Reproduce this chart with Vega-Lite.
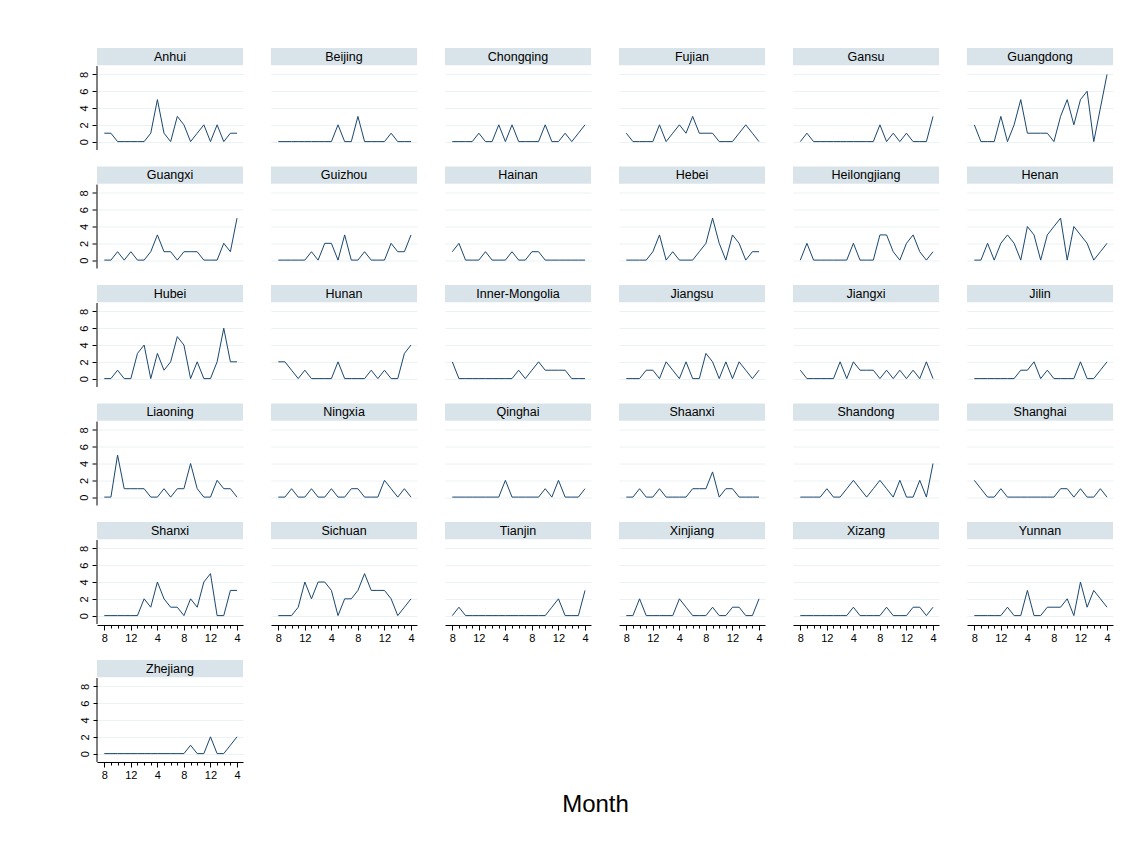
{
"$schema": "https://vega.github.io/schema/vega-lite/v6.json",
"background": "white",
"padding": {"left": 77, "top": 48, "right": 5, "bottom": 5},
"data": {"values": [
{"province":"Anhui","t":0,"n":1},{"province":"Anhui","t":1,"n":1},{"province":"Anhui","t":2,"n":0},{"province":"Anhui","t":3,"n":0},{"province":"Anhui","t":4,"n":0},{"province":"Anhui","t":5,"n":0},{"province":"Anhui","t":6,"n":0},{"province":"Anhui","t":7,"n":1},{"province":"Anhui","t":8,"n":5},{"province":"Anhui","t":9,"n":1},{"province":"Anhui","t":10,"n":0},{"province":"Anhui","t":11,"n":3},{"province":"Anhui","t":12,"n":2},{"province":"Anhui","t":13,"n":0},{"province":"Anhui","t":14,"n":1},{"province":"Anhui","t":15,"n":2},{"province":"Anhui","t":16,"n":0},{"province":"Anhui","t":17,"n":2},{"province":"Anhui","t":18,"n":0},{"province":"Anhui","t":19,"n":1},{"province":"Anhui","t":20,"n":1},
{"province":"Beijing","t":0,"n":0},{"province":"Beijing","t":1,"n":0},{"province":"Beijing","t":2,"n":0},{"province":"Beijing","t":3,"n":0},{"province":"Beijing","t":4,"n":0},{"province":"Beijing","t":5,"n":0},{"province":"Beijing","t":6,"n":0},{"province":"Beijing","t":7,"n":0},{"province":"Beijing","t":8,"n":0},{"province":"Beijing","t":9,"n":2},{"province":"Beijing","t":10,"n":0},{"province":"Beijing","t":11,"n":0},{"province":"Beijing","t":12,"n":3},{"province":"Beijing","t":13,"n":0},{"province":"Beijing","t":14,"n":0},{"province":"Beijing","t":15,"n":0},{"province":"Beijing","t":16,"n":0},{"province":"Beijing","t":17,"n":1},{"province":"Beijing","t":18,"n":0},{"province":"Beijing","t":19,"n":0},{"province":"Beijing","t":20,"n":0},
{"province":"Chongqing","t":0,"n":0},{"province":"Chongqing","t":1,"n":0},{"province":"Chongqing","t":2,"n":0},{"province":"Chongqing","t":3,"n":0},{"province":"Chongqing","t":4,"n":1},{"province":"Chongqing","t":5,"n":0},{"province":"Chongqing","t":6,"n":0},{"province":"Chongqing","t":7,"n":2},{"province":"Chongqing","t":8,"n":0},{"province":"Chongqing","t":9,"n":2},{"province":"Chongqing","t":10,"n":0},{"province":"Chongqing","t":11,"n":0},{"province":"Chongqing","t":12,"n":0},{"province":"Chongqing","t":13,"n":0},{"province":"Chongqing","t":14,"n":2},{"province":"Chongqing","t":15,"n":0},{"province":"Chongqing","t":16,"n":0},{"province":"Chongqing","t":17,"n":1},{"province":"Chongqing","t":18,"n":0},{"province":"Chongqing","t":19,"n":1},{"province":"Chongqing","t":20,"n":2},
{"province":"Fujian","t":0,"n":1},{"province":"Fujian","t":1,"n":0},{"province":"Fujian","t":2,"n":0},{"province":"Fujian","t":3,"n":0},{"province":"Fujian","t":4,"n":0},{"province":"Fujian","t":5,"n":2},{"province":"Fujian","t":6,"n":0},{"province":"Fujian","t":7,"n":1},{"province":"Fujian","t":8,"n":2},{"province":"Fujian","t":9,"n":1},{"province":"Fujian","t":10,"n":3},{"province":"Fujian","t":11,"n":1},{"province":"Fujian","t":12,"n":1},{"province":"Fujian","t":13,"n":1},{"province":"Fujian","t":14,"n":0},{"province":"Fujian","t":15,"n":0},{"province":"Fujian","t":16,"n":0},{"province":"Fujian","t":17,"n":1},{"province":"Fujian","t":18,"n":2},{"province":"Fujian","t":19,"n":1},{"province":"Fujian","t":20,"n":0},
{"province":"Gansu","t":0,"n":0},{"province":"Gansu","t":1,"n":1},{"province":"Gansu","t":2,"n":0},{"province":"Gansu","t":3,"n":0},{"province":"Gansu","t":4,"n":0},{"province":"Gansu","t":5,"n":0},{"province":"Gansu","t":6,"n":0},{"province":"Gansu","t":7,"n":0},{"province":"Gansu","t":8,"n":0},{"province":"Gansu","t":9,"n":0},{"province":"Gansu","t":10,"n":0},{"province":"Gansu","t":11,"n":0},{"province":"Gansu","t":12,"n":2},{"province":"Gansu","t":13,"n":0},{"province":"Gansu","t":14,"n":1},{"province":"Gansu","t":15,"n":0},{"province":"Gansu","t":16,"n":1},{"province":"Gansu","t":17,"n":0},{"province":"Gansu","t":18,"n":0},{"province":"Gansu","t":19,"n":0},{"province":"Gansu","t":20,"n":3},
{"province":"Guangdong","t":0,"n":2},{"province":"Guangdong","t":1,"n":0},{"province":"Guangdong","t":2,"n":0},{"province":"Guangdong","t":3,"n":0},{"province":"Guangdong","t":4,"n":3},{"province":"Guangdong","t":5,"n":0},{"province":"Guangdong","t":6,"n":2},{"province":"Guangdong","t":7,"n":5},{"province":"Guangdong","t":8,"n":1},{"province":"Guangdong","t":9,"n":1},{"province":"Guangdong","t":10,"n":1},{"province":"Guangdong","t":11,"n":1},{"province":"Guangdong","t":12,"n":0},{"province":"Guangdong","t":13,"n":3},{"province":"Guangdong","t":14,"n":5},{"province":"Guangdong","t":15,"n":2},{"province":"Guangdong","t":16,"n":5},{"province":"Guangdong","t":17,"n":6},{"province":"Guangdong","t":18,"n":0},{"province":"Guangdong","t":19,"n":4},{"province":"Guangdong","t":20,"n":8},
{"province":"Guangxi","t":0,"n":0},{"province":"Guangxi","t":1,"n":0},{"province":"Guangxi","t":2,"n":1},{"province":"Guangxi","t":3,"n":0},{"province":"Guangxi","t":4,"n":1},{"province":"Guangxi","t":5,"n":0},{"province":"Guangxi","t":6,"n":0},{"province":"Guangxi","t":7,"n":1},{"province":"Guangxi","t":8,"n":3},{"province":"Guangxi","t":9,"n":1},{"province":"Guangxi","t":10,"n":1},{"province":"Guangxi","t":11,"n":0},{"province":"Guangxi","t":12,"n":1},{"province":"Guangxi","t":13,"n":1},{"province":"Guangxi","t":14,"n":1},{"province":"Guangxi","t":15,"n":0},{"province":"Guangxi","t":16,"n":0},{"province":"Guangxi","t":17,"n":0},{"province":"Guangxi","t":18,"n":2},{"province":"Guangxi","t":19,"n":1},{"province":"Guangxi","t":20,"n":5},
{"province":"Guizhou","t":0,"n":0},{"province":"Guizhou","t":1,"n":0},{"province":"Guizhou","t":2,"n":0},{"province":"Guizhou","t":3,"n":0},{"province":"Guizhou","t":4,"n":0},{"province":"Guizhou","t":5,"n":1},{"province":"Guizhou","t":6,"n":0},{"province":"Guizhou","t":7,"n":2},{"province":"Guizhou","t":8,"n":2},{"province":"Guizhou","t":9,"n":0},{"province":"Guizhou","t":10,"n":3},{"province":"Guizhou","t":11,"n":0},{"province":"Guizhou","t":12,"n":0},{"province":"Guizhou","t":13,"n":1},{"province":"Guizhou","t":14,"n":0},{"province":"Guizhou","t":15,"n":0},{"province":"Guizhou","t":16,"n":0},{"province":"Guizhou","t":17,"n":2},{"province":"Guizhou","t":18,"n":1},{"province":"Guizhou","t":19,"n":1},{"province":"Guizhou","t":20,"n":3},
{"province":"Hainan","t":0,"n":1},{"province":"Hainan","t":1,"n":2},{"province":"Hainan","t":2,"n":0},{"province":"Hainan","t":3,"n":0},{"province":"Hainan","t":4,"n":0},{"province":"Hainan","t":5,"n":1},{"province":"Hainan","t":6,"n":0},{"province":"Hainan","t":7,"n":0},{"province":"Hainan","t":8,"n":0},{"province":"Hainan","t":9,"n":1},{"province":"Hainan","t":10,"n":0},{"province":"Hainan","t":11,"n":0},{"province":"Hainan","t":12,"n":1},{"province":"Hainan","t":13,"n":1},{"province":"Hainan","t":14,"n":0},{"province":"Hainan","t":15,"n":0},{"province":"Hainan","t":16,"n":0},{"province":"Hainan","t":17,"n":0},{"province":"Hainan","t":18,"n":0},{"province":"Hainan","t":19,"n":0},{"province":"Hainan","t":20,"n":0},
{"province":"Hebei","t":0,"n":0},{"province":"Hebei","t":1,"n":0},{"province":"Hebei","t":2,"n":0},{"province":"Hebei","t":3,"n":0},{"province":"Hebei","t":4,"n":1},{"province":"Hebei","t":5,"n":3},{"province":"Hebei","t":6,"n":0},{"province":"Hebei","t":7,"n":1},{"province":"Hebei","t":8,"n":0},{"province":"Hebei","t":9,"n":0},{"province":"Hebei","t":10,"n":0},{"province":"Hebei","t":11,"n":1},{"province":"Hebei","t":12,"n":2},{"province":"Hebei","t":13,"n":5},{"province":"Hebei","t":14,"n":2},{"province":"Hebei","t":15,"n":0},{"province":"Hebei","t":16,"n":3},{"province":"Hebei","t":17,"n":2},{"province":"Hebei","t":18,"n":0},{"province":"Hebei","t":19,"n":1},{"province":"Hebei","t":20,"n":1},
{"province":"Heilongjiang","t":0,"n":0},{"province":"Heilongjiang","t":1,"n":2},{"province":"Heilongjiang","t":2,"n":0},{"province":"Heilongjiang","t":3,"n":0},{"province":"Heilongjiang","t":4,"n":0},{"province":"Heilongjiang","t":5,"n":0},{"province":"Heilongjiang","t":6,"n":0},{"province":"Heilongjiang","t":7,"n":0},{"province":"Heilongjiang","t":8,"n":2},{"province":"Heilongjiang","t":9,"n":0},{"province":"Heilongjiang","t":10,"n":0},{"province":"Heilongjiang","t":11,"n":0},{"province":"Heilongjiang","t":12,"n":3},{"province":"Heilongjiang","t":13,"n":3},{"province":"Heilongjiang","t":14,"n":1},{"province":"Heilongjiang","t":15,"n":0},{"province":"Heilongjiang","t":16,"n":2},{"province":"Heilongjiang","t":17,"n":3},{"province":"Heilongjiang","t":18,"n":1},{"province":"Heilongjiang","t":19,"n":0},{"province":"Heilongjiang","t":20,"n":1},
{"province":"Henan","t":0,"n":0},{"province":"Henan","t":1,"n":0},{"province":"Henan","t":2,"n":2},{"province":"Henan","t":3,"n":0},{"province":"Henan","t":4,"n":2},{"province":"Henan","t":5,"n":3},{"province":"Henan","t":6,"n":2},{"province":"Henan","t":7,"n":0},{"province":"Henan","t":8,"n":4},{"province":"Henan","t":9,"n":3},{"province":"Henan","t":10,"n":0},{"province":"Henan","t":11,"n":3},{"province":"Henan","t":12,"n":4},{"province":"Henan","t":13,"n":5},{"province":"Henan","t":14,"n":0},{"province":"Henan","t":15,"n":4},{"province":"Henan","t":16,"n":3},{"province":"Henan","t":17,"n":2},{"province":"Henan","t":18,"n":0},{"province":"Henan","t":19,"n":1},{"province":"Henan","t":20,"n":2},
{"province":"Hubei","t":0,"n":0},{"province":"Hubei","t":1,"n":0},{"province":"Hubei","t":2,"n":1},{"province":"Hubei","t":3,"n":0},{"province":"Hubei","t":4,"n":0},{"province":"Hubei","t":5,"n":3},{"province":"Hubei","t":6,"n":4},{"province":"Hubei","t":7,"n":0},{"province":"Hubei","t":8,"n":3},{"province":"Hubei","t":9,"n":1},{"province":"Hubei","t":10,"n":2},{"province":"Hubei","t":11,"n":5},{"province":"Hubei","t":12,"n":4},{"province":"Hubei","t":13,"n":0},{"province":"Hubei","t":14,"n":2},{"province":"Hubei","t":15,"n":0},{"province":"Hubei","t":16,"n":0},{"province":"Hubei","t":17,"n":2},{"province":"Hubei","t":18,"n":6},{"province":"Hubei","t":19,"n":2},{"province":"Hubei","t":20,"n":2},
{"province":"Hunan","t":0,"n":2},{"province":"Hunan","t":1,"n":2},{"province":"Hunan","t":2,"n":1},{"province":"Hunan","t":3,"n":0},{"province":"Hunan","t":4,"n":1},{"province":"Hunan","t":5,"n":0},{"province":"Hunan","t":6,"n":0},{"province":"Hunan","t":7,"n":0},{"province":"Hunan","t":8,"n":0},{"province":"Hunan","t":9,"n":2},{"province":"Hunan","t":10,"n":0},{"province":"Hunan","t":11,"n":0},{"province":"Hunan","t":12,"n":0},{"province":"Hunan","t":13,"n":0},{"province":"Hunan","t":14,"n":1},{"province":"Hunan","t":15,"n":0},{"province":"Hunan","t":16,"n":1},{"province":"Hunan","t":17,"n":0},{"province":"Hunan","t":18,"n":0},{"province":"Hunan","t":19,"n":3},{"province":"Hunan","t":20,"n":4},
{"province":"Inner-Mongolia","t":0,"n":2},{"province":"Inner-Mongolia","t":1,"n":0},{"province":"Inner-Mongolia","t":2,"n":0},{"province":"Inner-Mongolia","t":3,"n":0},{"province":"Inner-Mongolia","t":4,"n":0},{"province":"Inner-Mongolia","t":5,"n":0},{"province":"Inner-Mongolia","t":6,"n":0},{"province":"Inner-Mongolia","t":7,"n":0},{"province":"Inner-Mongolia","t":8,"n":0},{"province":"Inner-Mongolia","t":9,"n":0},{"province":"Inner-Mongolia","t":10,"n":1},{"province":"Inner-Mongolia","t":11,"n":0},{"province":"Inner-Mongolia","t":12,"n":1},{"province":"Inner-Mongolia","t":13,"n":2},{"province":"Inner-Mongolia","t":14,"n":1},{"province":"Inner-Mongolia","t":15,"n":1},{"province":"Inner-Mongolia","t":16,"n":1},{"province":"Inner-Mongolia","t":17,"n":1},{"province":"Inner-Mongolia","t":18,"n":0},{"province":"Inner-Mongolia","t":19,"n":0},{"province":"Inner-Mongolia","t":20,"n":0},
{"province":"Jiangsu","t":0,"n":0},{"province":"Jiangsu","t":1,"n":0},{"province":"Jiangsu","t":2,"n":0},{"province":"Jiangsu","t":3,"n":1},{"province":"Jiangsu","t":4,"n":1},{"province":"Jiangsu","t":5,"n":0},{"province":"Jiangsu","t":6,"n":2},{"province":"Jiangsu","t":7,"n":1},{"province":"Jiangsu","t":8,"n":0},{"province":"Jiangsu","t":9,"n":2},{"province":"Jiangsu","t":10,"n":0},{"province":"Jiangsu","t":11,"n":0},{"province":"Jiangsu","t":12,"n":3},{"province":"Jiangsu","t":13,"n":2},{"province":"Jiangsu","t":14,"n":0},{"province":"Jiangsu","t":15,"n":2},{"province":"Jiangsu","t":16,"n":0},{"province":"Jiangsu","t":17,"n":2},{"province":"Jiangsu","t":18,"n":1},{"province":"Jiangsu","t":19,"n":0},{"province":"Jiangsu","t":20,"n":1},
{"province":"Jiangxi","t":0,"n":1},{"province":"Jiangxi","t":1,"n":0},{"province":"Jiangxi","t":2,"n":0},{"province":"Jiangxi","t":3,"n":0},{"province":"Jiangxi","t":4,"n":0},{"province":"Jiangxi","t":5,"n":0},{"province":"Jiangxi","t":6,"n":2},{"province":"Jiangxi","t":7,"n":0},{"province":"Jiangxi","t":8,"n":2},{"province":"Jiangxi","t":9,"n":1},{"province":"Jiangxi","t":10,"n":1},{"province":"Jiangxi","t":11,"n":1},{"province":"Jiangxi","t":12,"n":0},{"province":"Jiangxi","t":13,"n":1},{"province":"Jiangxi","t":14,"n":0},{"province":"Jiangxi","t":15,"n":1},{"province":"Jiangxi","t":16,"n":0},{"province":"Jiangxi","t":17,"n":1},{"province":"Jiangxi","t":18,"n":0},{"province":"Jiangxi","t":19,"n":2},{"province":"Jiangxi","t":20,"n":0},
{"province":"Jilin","t":0,"n":0},{"province":"Jilin","t":1,"n":0},{"province":"Jilin","t":2,"n":0},{"province":"Jilin","t":3,"n":0},{"province":"Jilin","t":4,"n":0},{"province":"Jilin","t":5,"n":0},{"province":"Jilin","t":6,"n":0},{"province":"Jilin","t":7,"n":1},{"province":"Jilin","t":8,"n":1},{"province":"Jilin","t":9,"n":2},{"province":"Jilin","t":10,"n":0},{"province":"Jilin","t":11,"n":1},{"province":"Jilin","t":12,"n":0},{"province":"Jilin","t":13,"n":0},{"province":"Jilin","t":14,"n":0},{"province":"Jilin","t":15,"n":0},{"province":"Jilin","t":16,"n":2},{"province":"Jilin","t":17,"n":0},{"province":"Jilin","t":18,"n":0},{"province":"Jilin","t":19,"n":1},{"province":"Jilin","t":20,"n":2},
{"province":"Liaoning","t":0,"n":0},{"province":"Liaoning","t":1,"n":0},{"province":"Liaoning","t":2,"n":5},{"province":"Liaoning","t":3,"n":1},{"province":"Liaoning","t":4,"n":1},{"province":"Liaoning","t":5,"n":1},{"province":"Liaoning","t":6,"n":1},{"province":"Liaoning","t":7,"n":0},{"province":"Liaoning","t":8,"n":0},{"province":"Liaoning","t":9,"n":1},{"province":"Liaoning","t":10,"n":0},{"province":"Liaoning","t":11,"n":1},{"province":"Liaoning","t":12,"n":1},{"province":"Liaoning","t":13,"n":4},{"province":"Liaoning","t":14,"n":1},{"province":"Liaoning","t":15,"n":0},{"province":"Liaoning","t":16,"n":0},{"province":"Liaoning","t":17,"n":2},{"province":"Liaoning","t":18,"n":1},{"province":"Liaoning","t":19,"n":1},{"province":"Liaoning","t":20,"n":0},
{"province":"Ningxia","t":0,"n":0},{"province":"Ningxia","t":1,"n":0},{"province":"Ningxia","t":2,"n":1},{"province":"Ningxia","t":3,"n":0},{"province":"Ningxia","t":4,"n":0},{"province":"Ningxia","t":5,"n":1},{"province":"Ningxia","t":6,"n":0},{"province":"Ningxia","t":7,"n":0},{"province":"Ningxia","t":8,"n":1},{"province":"Ningxia","t":9,"n":0},{"province":"Ningxia","t":10,"n":0},{"province":"Ningxia","t":11,"n":1},{"province":"Ningxia","t":12,"n":1},{"province":"Ningxia","t":13,"n":0},{"province":"Ningxia","t":14,"n":0},{"province":"Ningxia","t":15,"n":0},{"province":"Ningxia","t":16,"n":2},{"province":"Ningxia","t":17,"n":1},{"province":"Ningxia","t":18,"n":0},{"province":"Ningxia","t":19,"n":1},{"province":"Ningxia","t":20,"n":0},
{"province":"Qinghai","t":0,"n":0},{"province":"Qinghai","t":1,"n":0},{"province":"Qinghai","t":2,"n":0},{"province":"Qinghai","t":3,"n":0},{"province":"Qinghai","t":4,"n":0},{"province":"Qinghai","t":5,"n":0},{"province":"Qinghai","t":6,"n":0},{"province":"Qinghai","t":7,"n":0},{"province":"Qinghai","t":8,"n":2},{"province":"Qinghai","t":9,"n":0},{"province":"Qinghai","t":10,"n":0},{"province":"Qinghai","t":11,"n":0},{"province":"Qinghai","t":12,"n":0},{"province":"Qinghai","t":13,"n":0},{"province":"Qinghai","t":14,"n":1},{"province":"Qinghai","t":15,"n":0},{"province":"Qinghai","t":16,"n":2},{"province":"Qinghai","t":17,"n":0},{"province":"Qinghai","t":18,"n":0},{"province":"Qinghai","t":19,"n":0},{"province":"Qinghai","t":20,"n":1},
{"province":"Shaanxi","t":0,"n":0},{"province":"Shaanxi","t":1,"n":0},{"province":"Shaanxi","t":2,"n":1},{"province":"Shaanxi","t":3,"n":0},{"province":"Shaanxi","t":4,"n":0},{"province":"Shaanxi","t":5,"n":1},{"province":"Shaanxi","t":6,"n":0},{"province":"Shaanxi","t":7,"n":0},{"province":"Shaanxi","t":8,"n":0},{"province":"Shaanxi","t":9,"n":0},{"province":"Shaanxi","t":10,"n":1},{"province":"Shaanxi","t":11,"n":1},{"province":"Shaanxi","t":12,"n":1},{"province":"Shaanxi","t":13,"n":3},{"province":"Shaanxi","t":14,"n":0},{"province":"Shaanxi","t":15,"n":1},{"province":"Shaanxi","t":16,"n":1},{"province":"Shaanxi","t":17,"n":0},{"province":"Shaanxi","t":18,"n":0},{"province":"Shaanxi","t":19,"n":0},{"province":"Shaanxi","t":20,"n":0},
{"province":"Shandong","t":0,"n":0},{"province":"Shandong","t":1,"n":0},{"province":"Shandong","t":2,"n":0},{"province":"Shandong","t":3,"n":0},{"province":"Shandong","t":4,"n":1},{"province":"Shandong","t":5,"n":0},{"province":"Shandong","t":6,"n":0},{"province":"Shandong","t":7,"n":1},{"province":"Shandong","t":8,"n":2},{"province":"Shandong","t":9,"n":1},{"province":"Shandong","t":10,"n":0},{"province":"Shandong","t":11,"n":1},{"province":"Shandong","t":12,"n":2},{"province":"Shandong","t":13,"n":1},{"province":"Shandong","t":14,"n":0},{"province":"Shandong","t":15,"n":2},{"province":"Shandong","t":16,"n":0},{"province":"Shandong","t":17,"n":0},{"province":"Shandong","t":18,"n":2},{"province":"Shandong","t":19,"n":0},{"province":"Shandong","t":20,"n":4},
{"province":"Shanghai","t":0,"n":2},{"province":"Shanghai","t":1,"n":1},{"province":"Shanghai","t":2,"n":0},{"province":"Shanghai","t":3,"n":0},{"province":"Shanghai","t":4,"n":1},{"province":"Shanghai","t":5,"n":0},{"province":"Shanghai","t":6,"n":0},{"province":"Shanghai","t":7,"n":0},{"province":"Shanghai","t":8,"n":0},{"province":"Shanghai","t":9,"n":0},{"province":"Shanghai","t":10,"n":0},{"province":"Shanghai","t":11,"n":0},{"province":"Shanghai","t":12,"n":0},{"province":"Shanghai","t":13,"n":1},{"province":"Shanghai","t":14,"n":1},{"province":"Shanghai","t":15,"n":0},{"province":"Shanghai","t":16,"n":1},{"province":"Shanghai","t":17,"n":0},{"province":"Shanghai","t":18,"n":0},{"province":"Shanghai","t":19,"n":1},{"province":"Shanghai","t":20,"n":0},
{"province":"Shanxi","t":0,"n":0},{"province":"Shanxi","t":1,"n":0},{"province":"Shanxi","t":2,"n":0},{"province":"Shanxi","t":3,"n":0},{"province":"Shanxi","t":4,"n":0},{"province":"Shanxi","t":5,"n":0},{"province":"Shanxi","t":6,"n":2},{"province":"Shanxi","t":7,"n":1},{"province":"Shanxi","t":8,"n":4},{"province":"Shanxi","t":9,"n":2},{"province":"Shanxi","t":10,"n":1},{"province":"Shanxi","t":11,"n":1},{"province":"Shanxi","t":12,"n":0},{"province":"Shanxi","t":13,"n":2},{"province":"Shanxi","t":14,"n":1},{"province":"Shanxi","t":15,"n":4},{"province":"Shanxi","t":16,"n":5},{"province":"Shanxi","t":17,"n":0},{"province":"Shanxi","t":18,"n":0},{"province":"Shanxi","t":19,"n":3},{"province":"Shanxi","t":20,"n":3},
{"province":"Sichuan","t":0,"n":0},{"province":"Sichuan","t":1,"n":0},{"province":"Sichuan","t":2,"n":0},{"province":"Sichuan","t":3,"n":1},{"province":"Sichuan","t":4,"n":4},{"province":"Sichuan","t":5,"n":2},{"province":"Sichuan","t":6,"n":4},{"province":"Sichuan","t":7,"n":4},{"province":"Sichuan","t":8,"n":3},{"province":"Sichuan","t":9,"n":0},{"province":"Sichuan","t":10,"n":2},{"province":"Sichuan","t":11,"n":2},{"province":"Sichuan","t":12,"n":3},{"province":"Sichuan","t":13,"n":5},{"province":"Sichuan","t":14,"n":3},{"province":"Sichuan","t":15,"n":3},{"province":"Sichuan","t":16,"n":3},{"province":"Sichuan","t":17,"n":2},{"province":"Sichuan","t":18,"n":0},{"province":"Sichuan","t":19,"n":1},{"province":"Sichuan","t":20,"n":2},
{"province":"Tianjin","t":0,"n":0},{"province":"Tianjin","t":1,"n":1},{"province":"Tianjin","t":2,"n":0},{"province":"Tianjin","t":3,"n":0},{"province":"Tianjin","t":4,"n":0},{"province":"Tianjin","t":5,"n":0},{"province":"Tianjin","t":6,"n":0},{"province":"Tianjin","t":7,"n":0},{"province":"Tianjin","t":8,"n":0},{"province":"Tianjin","t":9,"n":0},{"province":"Tianjin","t":10,"n":0},{"province":"Tianjin","t":11,"n":0},{"province":"Tianjin","t":12,"n":0},{"province":"Tianjin","t":13,"n":0},{"province":"Tianjin","t":14,"n":0},{"province":"Tianjin","t":15,"n":1},{"province":"Tianjin","t":16,"n":2},{"province":"Tianjin","t":17,"n":0},{"province":"Tianjin","t":18,"n":0},{"province":"Tianjin","t":19,"n":0},{"province":"Tianjin","t":20,"n":3},
{"province":"Xinjiang","t":0,"n":0},{"province":"Xinjiang","t":1,"n":0},{"province":"Xinjiang","t":2,"n":2},{"province":"Xinjiang","t":3,"n":0},{"province":"Xinjiang","t":4,"n":0},{"province":"Xinjiang","t":5,"n":0},{"province":"Xinjiang","t":6,"n":0},{"province":"Xinjiang","t":7,"n":0},{"province":"Xinjiang","t":8,"n":2},{"province":"Xinjiang","t":9,"n":1},{"province":"Xinjiang","t":10,"n":0},{"province":"Xinjiang","t":11,"n":0},{"province":"Xinjiang","t":12,"n":0},{"province":"Xinjiang","t":13,"n":1},{"province":"Xinjiang","t":14,"n":0},{"province":"Xinjiang","t":15,"n":0},{"province":"Xinjiang","t":16,"n":1},{"province":"Xinjiang","t":17,"n":1},{"province":"Xinjiang","t":18,"n":0},{"province":"Xinjiang","t":19,"n":0},{"province":"Xinjiang","t":20,"n":2},
{"province":"Xizang","t":0,"n":0},{"province":"Xizang","t":1,"n":0},{"province":"Xizang","t":2,"n":0},{"province":"Xizang","t":3,"n":0},{"province":"Xizang","t":4,"n":0},{"province":"Xizang","t":5,"n":0},{"province":"Xizang","t":6,"n":0},{"province":"Xizang","t":7,"n":0},{"province":"Xizang","t":8,"n":1},{"province":"Xizang","t":9,"n":0},{"province":"Xizang","t":10,"n":0},{"province":"Xizang","t":11,"n":0},{"province":"Xizang","t":12,"n":0},{"province":"Xizang","t":13,"n":1},{"province":"Xizang","t":14,"n":0},{"province":"Xizang","t":15,"n":0},{"province":"Xizang","t":16,"n":0},{"province":"Xizang","t":17,"n":1},{"province":"Xizang","t":18,"n":1},{"province":"Xizang","t":19,"n":0},{"province":"Xizang","t":20,"n":1},
{"province":"Yunnan","t":0,"n":0},{"province":"Yunnan","t":1,"n":0},{"province":"Yunnan","t":2,"n":0},{"province":"Yunnan","t":3,"n":0},{"province":"Yunnan","t":4,"n":0},{"province":"Yunnan","t":5,"n":1},{"province":"Yunnan","t":6,"n":0},{"province":"Yunnan","t":7,"n":0},{"province":"Yunnan","t":8,"n":3},{"province":"Yunnan","t":9,"n":0},{"province":"Yunnan","t":10,"n":0},{"province":"Yunnan","t":11,"n":1},{"province":"Yunnan","t":12,"n":1},{"province":"Yunnan","t":13,"n":1},{"province":"Yunnan","t":14,"n":2},{"province":"Yunnan","t":15,"n":0},{"province":"Yunnan","t":16,"n":4},{"province":"Yunnan","t":17,"n":1},{"province":"Yunnan","t":18,"n":3},{"province":"Yunnan","t":19,"n":2},{"province":"Yunnan","t":20,"n":1},
{"province":"Zhejiang","t":0,"n":0},{"province":"Zhejiang","t":1,"n":0},{"province":"Zhejiang","t":2,"n":0},{"province":"Zhejiang","t":3,"n":0},{"province":"Zhejiang","t":4,"n":0},{"province":"Zhejiang","t":5,"n":0},{"province":"Zhejiang","t":6,"n":0},{"province":"Zhejiang","t":7,"n":0},{"province":"Zhejiang","t":8,"n":0},{"province":"Zhejiang","t":9,"n":0},{"province":"Zhejiang","t":10,"n":0},{"province":"Zhejiang","t":11,"n":0},{"province":"Zhejiang","t":12,"n":0},{"province":"Zhejiang","t":13,"n":1},{"province":"Zhejiang","t":14,"n":0},{"province":"Zhejiang","t":15,"n":0},{"province":"Zhejiang","t":16,"n":2},{"province":"Zhejiang","t":17,"n":0},{"province":"Zhejiang","t":18,"n":0},{"province":"Zhejiang","t":19,"n":1},{"province":"Zhejiang","t":20,"n":2}
]},
"spacing": 17,
"vconcat": [
{
"transform": [{"filter": "datum.province !== 'Zhejiang'"}],
"facet": {"field": "province", "type": "nominal", "title": null, "header": {"labels": false, "title": null, "labelFontSize": 0, "labelPadding": 0, "labelExpr": "''"}},
"columns": 6,
"spacing": {"row": 15.5, "column": 28},
"spec": {
"width": 146, "height": 102,
"layer": [
{"transform": [{"filter": "datum.t === 0"}],
 "mark": {"type": "rect", "fill": "#d9e4ea", "strokeWidth": 0},
 "encoding": {"x": {"datum": -1.1, "type": "quantitative"}, "x2": {"datum": 20.9}, "y": {"datum": 9.1, "type": "quantitative"}, "y2": {"datum": 11.15}}},
{"transform": [{"filter": "datum.t === 0"}],
 "mark": {"type": "text", "font": "Liberation Sans", "fontSize": 12.5, "color": "#000000", "baseline": "middle", "align": "center"},
 "encoding": {"x": {"datum": 9.9, "type": "quantitative"}, "y": {"datum": 10.12, "type": "quantitative"}, "text": {"field": "province"}}},
{"transform": [{"filter": "datum.t === 0 && indexof(['Anhui','Guangxi','Hubei','Liaoning','Shanxi'], datum.province) >= 0"}],
 "mark": {"type": "rule", "color": "#000000", "strokeWidth": 1},
 "encoding": {"x": {"datum": -1.1, "type": "quantitative"}, "y": {"datum": -1, "type": "quantitative"}, "y2": {"datum": 9}}},
{"mark": {"type": "line", "color": "#1a476f", "strokeWidth": 1},
 "encoding": {
  "x": {"field": "t", "type": "quantitative", "title": null,
        "scale": {"domain": [-1.1, 20.9], "nice": false, "zero": false},
        "axis": {"values": [0,1,2,3,4,5,6,7,8,9,10,11,12,13,14,15,16,17,18,19,20], "tickCount": 21, "labelExpr": "datum.value % 4 === 0 ? '' + ((datum.value + 7) % 12 + 1) : ''", "tickSize": {"condition": {"test": "datum.value % 4 === 0", "value": 5}, "value": 3}, "grid": false, "labelPadding": 2, "labelOverlap": false, "labelFlush": false}},
  "y": {"field": "n", "type": "quantitative", "title": null,
        "scale": {"domain": [-1, 11.15], "nice": false, "zero": false},
        "axis": {"values": [0,2,4,6,8], "tickCount": 5, "domain": false, "tickSize": 4, "labelAngle": 270, "labelAlign": "center", "labelBaseline": "bottom", "labelPadding": 3, "labelOverlap": false, "grid": true}}
 }}
]
}
},
{
"transform": [{"filter": "datum.province === 'Zhejiang'"}],
"width": 146, "height": 102,
"layer": [
{"transform": [{"filter": "datum.t === 0"}],
 "mark": {"type": "rect", "fill": "#d9e4ea", "strokeWidth": 0},
 "encoding": {"x": {"datum": -1.1, "type": "quantitative"}, "x2": {"datum": 20.9}, "y": {"datum": 9.1, "type": "quantitative"}, "y2": {"datum": 11.15}}},
{"transform": [{"filter": "datum.t === 0"}],
 "mark": {"type": "text", "font": "Liberation Sans", "fontSize": 12.5, "color": "#000000", "baseline": "middle", "align": "center"},
 "encoding": {"x": {"datum": 9.9, "type": "quantitative"}, "y": {"datum": 10.12, "type": "quantitative"}, "text": {"field": "province"}}},
{"transform": [{"filter": "datum.t === 0"}],
 "mark": {"type": "rule", "color": "#000000", "strokeWidth": 1},
 "encoding": {"x": {"datum": -1.1, "type": "quantitative"}, "y": {"datum": -1, "type": "quantitative"}, "y2": {"datum": 9}}},
{"mark": {"type": "line", "color": "#1a476f", "strokeWidth": 1},
 "encoding": {
  "x": {"field": "t", "type": "quantitative", "title": null,
        "scale": {"domain": [-1.1, 20.9], "nice": false, "zero": false},
        "axis": {"values": [0,1,2,3,4,5,6,7,8,9,10,11,12,13,14,15,16,17,18,19,20], "tickCount": 21, "labelExpr": "datum.value % 4 === 0 ? '' + ((datum.value + 7) % 12 + 1) : ''", "tickSize": {"condition": {"test": "datum.value % 4 === 0", "value": 5}, "value": 3}, "grid": false, "labelPadding": 2, "labelOverlap": false, "labelFlush": false}},
  "y": {"field": "n", "type": "quantitative", "title": null,
        "scale": {"domain": [-1, 11.15], "nice": false, "zero": false},
        "axis": {"values": [0,2,4,6,8], "tickCount": 5, "domain": false, "tickSize": 4, "labelAngle": 270, "labelAlign": "center", "labelBaseline": "bottom", "labelPadding": 3, "labelOverlap": false, "grid": true}}
 }}
]
}
],
"title": {"text": "Month", "orient": "bottom", "anchor": "middle", "font": "Liberation Sans", "fontSize": 24, "fontWeight": "normal", "color": "#000000", "offset": 13},
"config": {
 "view": {"stroke": null},
 "font": "Liberation Sans",
 "header": {"labels": false, "title": null, "labelFontSize": 0, "labelPadding": 0},
 "headerFacet": {"labels": false, "title": null, "labelFontSize": 0, "labelPadding": 0},
 "axis": {"labelOverlap": false, "labelFont": "Liberation Sans", "labelFontSize": 11, "labelColor": "#000000", "tickColor": "#000000", "domainColor": "#000000", "gridColor": "#eaf2f3", "gridWidth": 1, "title": null, "labelFlush": false}
}
}
